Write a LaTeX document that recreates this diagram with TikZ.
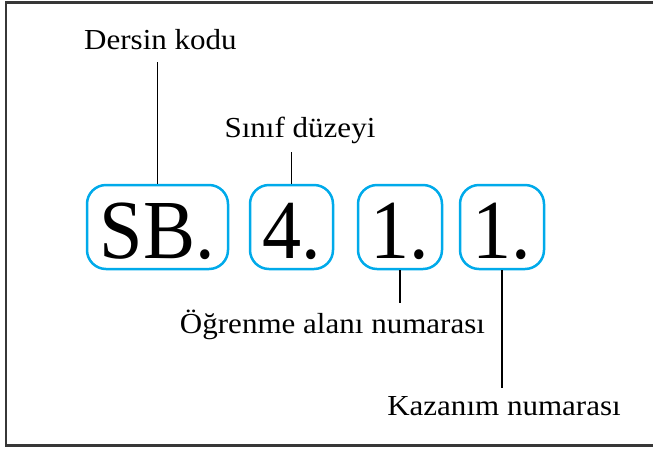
\documentclass[tikz,border=0pt]{standalone}
\usepackage{fontspec}
\setmainfont{Liberation Serif}
\newfontfamily\bigfont[FakeStretch=0.93]{Liberation Serif}
\newfontfamily\lblfont[FakeStretch=1.07]{Liberation Serif}
\definecolor{codeblue}{RGB}{0,170,234}
\definecolor{framegray}{RGB}{55,55,55}
\tikzset{
  codebox/.style={draw=codeblue, line width=2.5pt, rounded corners=19pt,
    minimum height=84pt, inner sep=0pt, text height=62pt, text depth=0pt,
    font=\bigfont\fontsize{84}{84}\selectfont},
  lbl/.style={anchor=base, inner sep=0pt, font=\lblfont\fontsize{29}{29}\selectfont},
  lead/.style={line width=1.8pt, draw=black}
}
\begin{document}
\begin{tikzpicture}[x=1pt,y=-1pt]
\useasboundingbox (0,0) rectangle (653,448);
\draw[framegray, line width=2.5pt] (670,2.5) -- (6,2.5) -- (6,445.5) -- (670,445.5);
\node[codebox, minimum width=141pt] (sb) at (157.5,227) {SB.};
\node[codebox, minimum width=83pt] (sn) at (291.5,227) {4.};
\node[codebox, minimum width=84pt] (oa) at (400,227) {1.};
\node[codebox, minimum width=84pt] (kz) at (502,227) {1.};
\node[lbl] (dk) at (160.5,49) {Dersin kodu};
\node[lbl] (sd) at (300,137) {Sınıf düzeyi};
\node[lbl] (on) at (332.5,333) {Öğrenme alanı numarası};
\node[lbl] (kn) at (504,415) {Kazanım numarası};
\coordinate (dkend) at (sb.north |- 0,62);
\coordinate (sdend) at (sn.north |- 0,152);
\coordinate (onend) at (oa.south |- 0,303);
\coordinate (knend) at (kz.south |- 0,388);
\draw[lead] (sb.north) -- (dkend);
\draw[lead] (sn.north) -- (sdend);
\draw[lead] (oa.south) -- (onend);
\draw[lead] (kz.south) -- (knend);
\end{tikzpicture}
\end{document}
